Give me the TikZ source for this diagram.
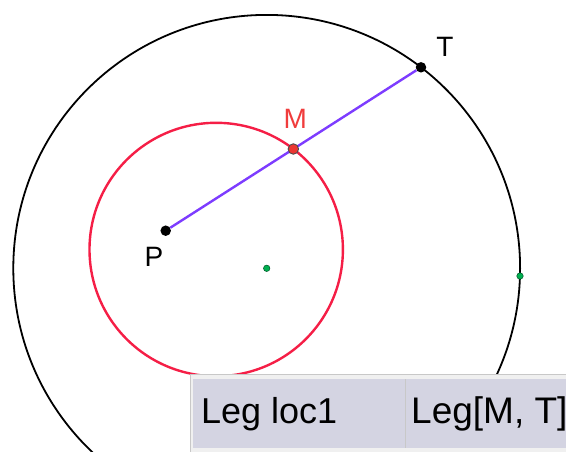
\documentclass[tikz,border=0pt]{standalone}
\usepackage{fontspec}
\setmainfont{Liberation Sans}
\usetikzlibrary{backgrounds}
\definecolor{locred}{RGB}{245,30,70}
\definecolor{segpurple}{RGB}{125,60,255}
\definecolor{mred}{RGB}{235,55,50}
\definecolor{mlab}{RGB}{240,60,60}
\definecolor{ptgreen}{RGB}{0,175,80}
\definecolor{cellfill}{RGB}{212,212,226}
\definecolor{framegray}{RGB}{200,200,200}
\begin{document}
\begin{tikzpicture}[x=1pt,y=-1pt,
  blackpt/.style={circle,fill=black,inner sep=0pt,minimum size=10.5pt},
  mpt/.style={circle,fill=mred,draw=black!70,line width=0.9pt,inner sep=0pt,minimum size=10.5pt},
  greenpt/.style={circle,fill=ptgreen,draw=black!50!ptgreen,line width=0.5pt,inner sep=0pt,minimum size=6.5pt},
  lbl/.style={inner sep=0pt,font=\fontsize{28}{30}\selectfont},
  celltext/.style={inner sep=0pt,anchor=base west,font=\fontsize{36}{40}\selectfont},
  cellbox/.style={fill=cellfill,inner sep=0pt,anchor=north west,minimum height=69pt}
]
\useasboundingbox (0,0) rectangle (566,451);
\clip (0,0) rectangle (566,451);
% points
\node[greenpt] (C) at (266.7,268.3) {};
\node[greenpt] (R) at (520.0,276.0) {};
\node[blackpt] (P) at (165.7,230.7) {};
\node[blackpt] (T) at (421.0,67.3) {};
\node[mpt] (M) at (293.35,149.0) {};
% labels
\node[lbl] (Plab) at (154,257) {P};
\node[lbl] (Tlab) at (445,47) {T};
\node[lbl,text=mlab] (Mlab) at (295.3,119) {M};
\begin{pgfonlayer}{background}
  \draw[black,line width=1.8pt] (C.center) circle (253.4pt);
  \draw[locred,line width=2.4pt] (216.2,249.5) circle (126.7pt);
  \draw[segpurple,line width=2.4pt] (P) -- (T);
\end{pgfonlayer}
% table
\fill[white!94!black] (190.5,374) rectangle (570,455);
\draw[framegray,line width=1pt] (190.5,455) -- (190.5,374) -- (570,374);
\node[cellbox,minimum width=212pt] (cA) at (193,379) {};
\node[cellbox,minimum width=170pt] (cB) at (406,379) {};
\draw[framegray,line width=1pt] (cA.north east) -- (cA.south east);
\node[celltext] (tA) at (201,423) {Leg loc1};
\node[celltext,font=\fontsize{37}{40}\selectfont] (tB) at (411,423) {Leg[M, T]};
\end{tikzpicture}
\end{document}
